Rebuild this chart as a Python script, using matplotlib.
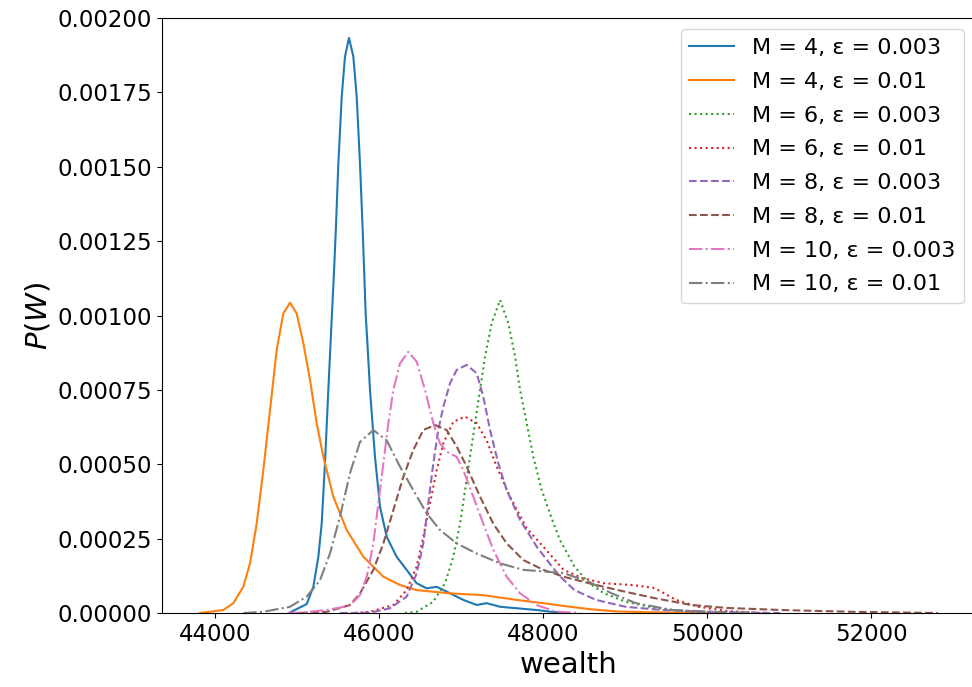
import matplotlib
matplotlib.use('Agg')
import matplotlib.pyplot as plt
from matplotlib.ticker import FormatStrFormatter

# ---------- values ----------
# M = 4, eps = 0.003
m4_003_x = [44900, 45118, 45199, 45260, 45301, 45341, 45382, 45420, 45450, 45475, 45504, 45545, 45585,
            45634, 45687, 45728, 45768, 45801, 45837, 45860, 45890, 45951, 46012, 46094, 46215, 46337,
            46459, 46581, 46703, 46825, 47028, 47191, 47313, 47476, 47679, 47923, 48100, 48293]
m4_003_y = [0, 3.0e-5, 8.8e-5, 1.89e-4, 3.0e-4, 5.03e-4, 7.5e-4, 9.7e-4, 1.14e-3, 1.3e-3, 1.51e-3,
            1.735e-3, 1.87e-3, 1.933e-3, 1.87e-3, 1.735e-3, 1.51e-3, 1.287e-3, 1.007e-3, 9.0e-4, 7.5e-4,
            5.25e-4, 3.57e-4, 2.56e-4, 1.89e-4, 1.45e-4, 1.0e-4, 8.3e-5, 8.8e-5, 7.2e-5, 4.4e-5, 2.7e-5,
            3.3e-5, 2.1e-5, 1.6e-5, 1.0e-5, 4e-6, 0]

# M = 4, eps = 0.01
m4_01_x = [43817, 44101, 44223, 44345, 44427, 44508, 44589, 44671, 44752, 44833, 44915, 44996, 45077,
           45159, 45240, 45321, 45443, 45606, 45809, 46053, 46256, 46459, 46866, 47272, 47679, 48004,
           48300, 48600, 48914, 49400, 50024]
m4_01_y = [0, 1.0e-5, 3.3e-5, 8.8e-5, 1.67e-4, 3.0e-4, 4.8e-4, 6.82e-4, 8.84e-4, 1.007e-3, 1.043e-3,
           1.007e-3, 9.07e-4, 7.83e-4, 6.38e-4, 5.25e-4, 3.91e-4, 2.79e-4, 1.89e-4, 1.22e-4, 9.4e-5,
           7.7e-5, 6.6e-5, 6.0e-5, 4.4e-5, 3.3e-5, 2.2e-5, 1.2e-5, 5e-6, 2e-6, 0]

# M = 6, eps = 0.003
m6_003_x = [46317, 46459, 46662, 46805, 46906, 46988, 47049, 47110, 47171, 47232, 47293, 47374, 47476,
            47577, 47659, 47720, 47801, 47882, 47984, 48110, 48207, 48384, 48561, 48739, 49006, 49360,
            49805, 50170]
m6_003_y = [0, 4e-6, 3.8e-5, 1.0e-4, 1.89e-4, 3.0e-4, 4.13e-4, 5.25e-4, 6.38e-4, 7.5e-4, 8.62e-4,
            9.74e-4, 1.052e-3, 9.74e-4, 8.62e-4, 7.5e-4, 6.38e-4, 5.25e-4, 4.13e-4, 3.15e-4, 2.45e-4,
            1.56e-4, 1.0e-4, 6.7e-5, 3.8e-5, 1.7e-5, 4e-6, 0]

# M = 6, eps = 0.01
m6_01_x = [45707, 45890, 46175, 46337, 46459, 46540, 46622, 46703, 46784, 46906, 47049, 47191, 47313,
           47435, 47598, 47801, 48045, 48251, 48473, 48739, 49094, 49360, 49622, 49890, 50244, 50650]
m6_01_y = [0, 4e-6, 2.7e-5, 7.7e-5, 1.56e-4, 2.56e-4, 3.69e-4, 4.8e-4, 5.7e-4, 6.43e-4, 6.6e-4,
           6.38e-4, 5.8e-4, 4.92e-4, 3.91e-4, 2.85e-4, 2.1e-4, 1.45e-4, 1.18e-4, 1.0e-4, 9.4e-5, 8.4e-5,
           4.4e-5, 2.1e-5, 7e-6, 0]

# M = 8, eps = 0.003
m8_003_x = [45524, 45890, 46134, 46337, 46459, 46540, 46601, 46662, 46723, 46784, 46866, 46947, 47069,
            47191, 47272, 47354, 47455, 47557, 47720, 47923, 48085, 48200, 48384, 48646, 49006, 49451,
            50024, 50890]
m8_003_y = [0, 1e-6, 1.6e-5, 5.5e-5, 1.33e-4, 2.34e-4, 3.69e-4, 5.03e-4, 6.15e-4, 6.93e-4, 7.72e-4,
            8.17e-4, 8.34e-4, 8.06e-4, 7.27e-4, 6.15e-4, 5.03e-4, 4.13e-4, 3.13e-4, 2.23e-4, 1.65e-4,
            1.25e-4, 7.7e-5, 4.4e-5, 2.1e-5, 1.0e-5, 4e-6, 0]

# M = 8, eps = 0.01
m8_01_x = [45037, 45362, 45646, 45768, 45931, 46053, 46175, 46297, 46418, 46540, 46683, 46825, 46947,
           47069, 47232, 47394, 47557, 47760, 48004, 48251, 48561, 48914, 49360, 49805, 50244, 50915,
           51799, 52817]
m8_01_y = [0, 4e-6, 2.7e-5, 6.6e-5, 1.45e-4, 2.34e-4, 3.46e-4, 4.58e-4, 5.48e-4, 6.15e-4, 6.32e-4,
           6.15e-4, 5.6e-4, 4.92e-4, 3.91e-4, 3.0e-4, 2.34e-4, 1.78e-4, 1.45e-4, 1.22e-4, 1.0e-4, 7.7e-5,
           5.0e-5, 2.7e-5, 1.7e-5, 1.0e-5, 4e-6, 0]

# M = 10, eps = 0.003
m10_003_x = [44890, 45077, 45362, 45646, 45768, 45850, 45931, 45992, 46053, 46114, 46175, 46256, 46357,
             46459, 46561, 46662, 46744, 46825, 46947, 47028, 47150, 47272, 47394, 47557, 47720, 47923,
             48150, 48450]
m10_003_y = [0, 2e-6, 1.0e-5, 2.5e-5, 6e-5, 1.22e-4, 2.34e-4, 3.69e-4, 5.03e-4, 6.38e-4, 7.5e-4,
             8.39e-4, 8.78e-4, 8.45e-4, 7.5e-4, 6.38e-4, 5.7e-4, 5.42e-4, 5.25e-4, 4.8e-4, 3.91e-4,
             3.0e-4, 2.12e-4, 1.22e-4, 6.6e-5, 2.7e-5, 5e-6, 0]

# M = 10, eps = 0.01
m10_01_x = [44345, 44589, 44915, 45118, 45280, 45402, 45524, 45646, 45768, 45931, 46094, 46256, 46418,
            46581, 46744, 46947, 47191, 47476, 47760, 48045, 48251, 48561, 48829, 49134, 49580, 50244,
            50650]
m10_01_y = [0, 4e-6, 2.1e-5, 5.5e-5, 1.1e-4, 2.0e-4, 3.24e-4, 4.7e-4, 5.75e-4, 6.15e-4, 5.8e-4,
            4.92e-4, 4.13e-4, 3.35e-4, 2.79e-4, 2.34e-4, 2.0e-4, 1.67e-4, 1.45e-4, 1.39e-4, 1.34e-4,
            1.05e-4, 6.7e-5, 3.3e-5, 1.0e-5, 2e-6, 0]

labels = ['M = 4, ε = 0.003', 'M = 4, ε = 0.01', 'M = 6, ε = 0.003', 'M = 6, ε = 0.01',
          'M = 8, ε = 0.003', 'M = 8, ε = 0.01', 'M = 10, ε = 0.003', 'M = 10, ε = 0.01']
xs = [m4_003_x, m4_01_x, m6_003_x, m6_01_x, m8_003_x, m8_01_x, m10_003_x, m10_01_x]
ys = [m4_003_y, m4_01_y, m6_003_y, m6_01_y, m8_003_y, m8_01_y, m10_003_y, m10_01_y]
styles = ['-', '-', ':', ':', '--', '--', '-.', '-.']
colors = ['tab:blue', 'tab:orange', 'tab:green', 'tab:red',
          'tab:purple', 'tab:brown', 'tab:pink', 'tab:gray']

# ----------------绘图-----------------
fig = plt.figure(figsize=(9.72, 6.87), dpi=100)
ax = fig.add_axes([0.1667, 0.1077, 0.8364, 0.8661])

for x, y, ls, c, lab in zip(xs, ys, styles, colors, labels):
    ax.plot(x, y, linestyle=ls, color=c, linewidth=1.5, label=lab)

ax.set_xlim(43354, 53268)
ax.set_ylim(0, 0.002)
ax.set_xticks([44000, 46000, 48000, 50000, 52000])
ax.yaxis.set_major_formatter(FormatStrFormatter('%.5f'))
ax.tick_params(labelsize=16.5)

ax.set_xlabel('wealth', fontsize=21)
ax.set_ylabel('$P(W)$', fontsize=21)
ax.legend(loc='upper right', fontsize=16, handlelength=2.0, labelspacing=0.62)

fig.savefig('out.png', dpi=100)
